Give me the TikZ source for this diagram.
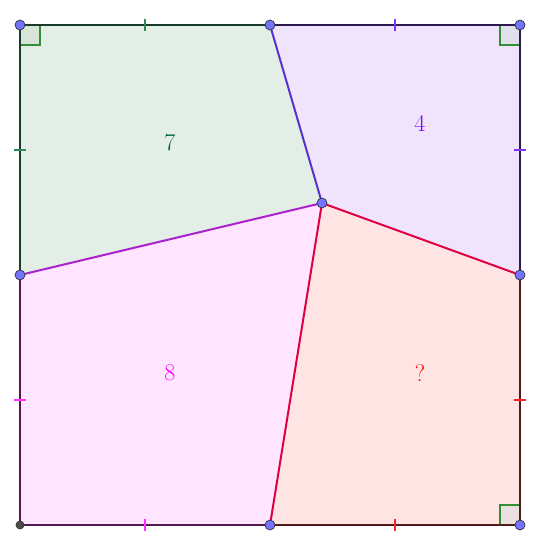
\documentclass[tikz,border=0pt]{standalone}
\begin{document}
\begin{tikzpicture}[x=1pt,y=-1pt,
  pt/.style={circle,draw=black!80,fill=blue!55!white,line width=0.7pt,inner sep=0pt,minimum size=10pt},
  ptdark/.style={circle,draw=black!80,fill=black!70,line width=0.7pt,inner sep=0pt,minimum size=8pt},
  edge/.style={line width=2pt},
  tick/.style={line width=1.4pt},
  ram/.style={draw=green!45!black!80,line width=1.4pt},
  lab/.style={font=\fontsize{24}{28}\selectfont}]
\useasboundingbox (0,0) rectangle (537,546);
\definecolor{gfill}{HTML}{E3EEE6}
\definecolor{vfill}{HTML}{F0E4FC}
\definecolor{pfill}{HTML}{FFE5FF}
\definecolor{rfill}{HTML}{FFE4E4}
\definecolor{gline}{HTML}{1A3A2A}
\definecolor{vline}{HTML}{2E1A4E}
\definecolor{pline}{HTML}{4E1A50}
\definecolor{rline}{HTML}{4E1A1A}
\definecolor{gtick}{HTML}{2E8B57}
\definecolor{vtick}{HTML}{7F33FF}
\definecolor{ptick}{HTML}{FF33FF}
\definecolor{rtick}{HTML}{FF2222}
\definecolor{ve}{HTML}{5533CC}
\definecolor{pe}{HTML}{AA22CC}
\definecolor{re}{HTML}{DD0044}
\definecolor{l7c}{HTML}{006633}
\definecolor{l4c}{HTML}{7F00FF}
\definecolor{l8c}{HTML}{FF00FF}
\definecolor{lqc}{HTML}{FF0000}
\coordinate (TL) at (20,25);
\coordinate (TM) at (270,25);
\coordinate (TR) at (520,25);
\coordinate (RM) at (520,275);
\coordinate (BR) at (520,525);
\coordinate (BM) at (270,525);
\coordinate (BL) at (20,525);
\coordinate (LM) at (20,275);
\coordinate (C) at (322,203);
% fills
\fill[gfill] (TL) -- (TM) -- (C) -- (LM) -- cycle;
\fill[vfill] (TM) -- (TR) -- (RM) -- (C) -- cycle;
\fill[pfill] (LM) -- (C) -- (BM) -- (BL) -- cycle;
\fill[rfill] (C) -- (RM) -- (BR) -- (BM) -- cycle;
% right angle marks
\filldraw[ram,fill=green!30!black!15] (TL) rectangle (40,45);
\filldraw[ram,fill=blue!30!black!12] (TR) rectangle (500,45);
\filldraw[ram,fill=red!30!black!12] (BR) rectangle (500,505);
% outer edges
\draw[edge,gline] (LM) -- (TL) -- (TM);
\draw[edge,vline] (TM) -- (TR) -- (RM);
\draw[edge,rline] (RM) -- (BR) -- (BM);
\draw[edge,pline] (BM) -- (BL) -- (LM);
% inner edges
\draw[edge,ve] (TM) -- (C);
\draw[edge,pe] (LM) -- (C);
\draw[edge,re] (C) -- (BM);
\draw[edge,re] (C) -- (RM);
% ticks
\draw[tick,gtick] (145,19) -- (145,31);
\draw[tick,gtick] (14,150) -- (26,150);
\draw[tick,vtick] (395,19) -- (395,31);
\draw[tick,vtick] (514,150) -- (526,150);
\draw[tick,ptick] (14,400) -- (26,400);
\draw[tick,ptick] (145,519) -- (145,531);
\draw[tick,rtick] (395,519) -- (395,531);
\draw[tick,rtick] (514,400) -- (526,400);
% labels
\node[lab,text=l7c] (l7) at (170,143) {7};
\node[lab,text=l4c] (l4) at (420,123) {4};
\node[lab,text=l8c] (l8) at (170,373) {8};
\node[lab,text=lqc] (lq) at (420,373) {?};
% points
\node[pt] (pTL) at (TL) {};
\node[pt] (pTM) at (TM) {};
\node[pt] (pTR) at (TR) {};
\node[pt] (pRM) at (RM) {};
\node[pt] (pBR) at (BR) {};
\node[pt] (pBM) at (BM) {};
\node[pt] (pLM) at (LM) {};
\node[pt] (pC) at (C) {};
\node[ptdark] (pBL) at (BL) {};
\end{tikzpicture}
\end{document}
